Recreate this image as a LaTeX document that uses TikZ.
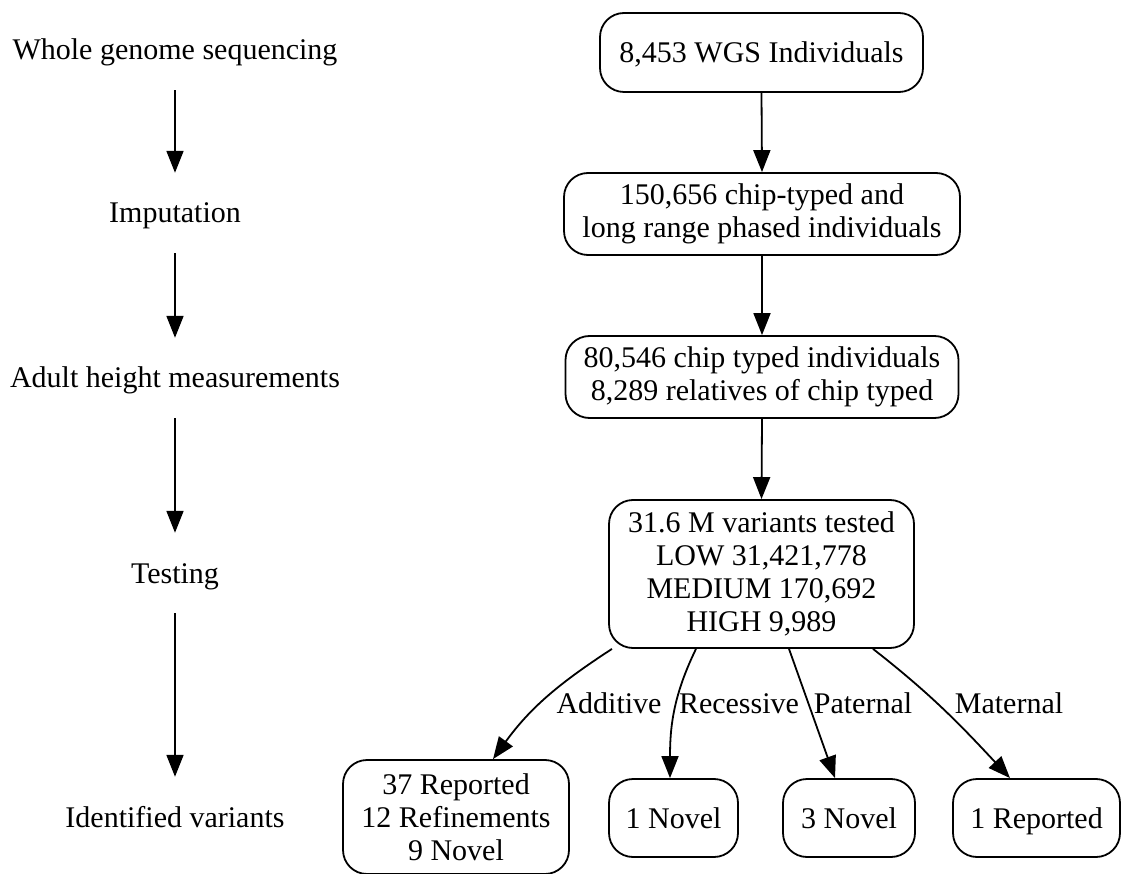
\documentclass[tikz,border=0pt]{standalone}
\usepackage{fontspec}
\setmainfont{Liberation Serif}
\usetikzlibrary{arrows.meta}
\begin{document}
\begin{tikzpicture}[x=1pt,y=1pt,
 box/.style={draw, line width=1.8pt, rounded corners=24pt, align=center, inner sep=0pt, font=\fontsize{30}{33}\selectfont},
 one/.style={text height=20pt, text depth=0pt},
 lbl/.style={inner sep=0pt, minimum height=80pt, text height=20pt, text depth=0pt, font=\fontsize{30}{33}\selectfont},
 elab/.style={inner sep=0pt, text height=20pt, text depth=0pt, font=\fontsize{30}{33}\selectfont},
 arr/.style={line width=1.8pt, -{Triangle[length=22pt,width=17pt]}}]
\useasboundingbox (0,0) rectangle (1122,-874);
% left column
\node[lbl] (l1) at (175,-50) {Whole genome sequencing};
\node[lbl] (l2) at (175,-213) {Imputation};
\node[lbl] (l3) at (175,-378) {Adult height measurements};
\node[lbl] (l4) at (175,-573) {Testing};
\node[lbl] (l5) at (175,-817) {Identified variants};
\draw[arr] (l1.south) -- (l2.north);
\draw[arr] (l2.south) -- (l3.north);
\draw[arr] (l3.south) -- (l4.north);
\draw[arr] (l4.south) -- (l5.north);
% right column
\node[box, one, minimum width=323pt, minimum height=79pt] (n1) at (761.5,-52.5) {8,453 WGS Individuals};
\node[box, minimum width=396pt, minimum height=82pt] (n2) at (762,-214) {150,656 chip-typed and\\long range phased individuals};
\node[box, minimum width=393pt, minimum height=82pt] (n3) at (762,-377) {80,546 chip typed individuals\\8,289 relatives of chip typed};
\node[box, minimum width=305pt, minimum height=148pt] (n4) at (761.5,-574) {31.6 M variants tested\\LOW 31,421,778\\MEDIUM 170,692\\HIGH 9,989};
\node[box, minimum width=226pt, minimum height=114pt] (n5) at (456,-817) {37 Reported\\12 Refinements\\9 Novel};
\node[box, one, minimum width=129pt, minimum height=78pt] (n6) at (673.5,-818) {1 Novel};
\node[box, one, minimum width=132pt, minimum height=78pt] (n7) at (849,-818) {3 Novel};
\node[box, one, minimum width=167pt, minimum height=78pt] (n8) at (1036.5,-818) {1 Reported};
\draw[arr] (n1.south) -- (n2.north);
\draw[arr] (n2.south) -- (n3.north);
\draw[arr] (n3.south) -- (n4.north);
\draw[arr] ([xshift=-149.5pt]n4.south) to[out=213,in=54] ([xshift=37pt]n5.north);
\draw[arr] ([xshift=-65.5pt]n4.south) to[out=244,in=90] ([xshift=-3.5pt]n6.north);
\draw[arr] ([xshift=27.5pt]n4.south) -- ([xshift=-14pt]n7.north);
\draw[arr] ([xshift=111.5pt]n4.south) to[out=-38,in=133] ([xshift=-26.5pt]n8.north);
\node[elab] (eA) at (609,-703) {Additive};
\node[elab] (eR) at (739,-703) {Recessive};
\node[elab] (eP) at (863,-703) {Paternal};
\node[elab] (eM) at (1009,-703) {Maternal};
\end{tikzpicture}
\end{document}
